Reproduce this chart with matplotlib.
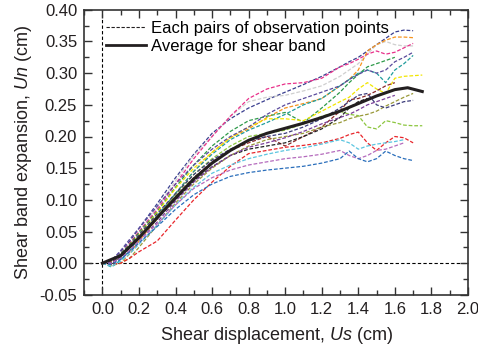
import numpy as np
import matplotlib
matplotlib.use("Agg")
import matplotlib.pyplot as plt
from matplotlib.ticker import MultipleLocator

plt.rcParams['font.family'] = ['Liberation Sans', 'DejaVu Sans']
plt.rcParams['mathtext.fontset'] = 'custom'
plt.rcParams['mathtext.it'] = 'Liberation Sans:italic'
plt.rcParams['mathtext.rm'] = 'Liberation Sans'

nan = np.nan

# shared x positions (cm) for the observation pairs
x_obs = [0, 0.05, 0.1, 0.15, 0.2, 0.3, 0.4, 0.5, 0.6, 0.7, 0.8, 0.9, 1.0, 1.1,
         1.2, 1.3, 1.35, 1.4, 1.45, 1.5, 1.55, 1.6, 1.65, 1.7, 1.75]

navy1 = [0, 0.004, 0.018, 0.035, 0.055, 0.094, 0.135, 0.172, 0.205, 0.228, 0.245, 0.258, 0.270, 0.282,
         0.295, 0.310, 0.318, 0.325, 0.335, 0.345, 0.355, 0.365, 0.368, 0.367, nan]
gray = [0, 0.002, 0.012, 0.030, 0.050, 0.088, 0.130, 0.170, 0.200, 0.232, 0.255, 0.262, 0.265, 0.272,
        0.280, 0.295, 0.305, 0.315, 0.330, 0.345, 0.350, 0.345, 0.343, 0.343, nan]
pink = [0, 0.003, 0.015, 0.032, 0.050, 0.085, 0.125, 0.165, 0.200, 0.232, 0.260, 0.275, 0.283, 0.285,
        0.292, 0.310, 0.315, 0.322, 0.330, 0.335, 0.330, 0.333, 0.340, 0.347, nan]
orange = [0, -0.004, 0.000, 0.015, 0.035, 0.070, 0.110, 0.145, 0.175, 0.198, 0.212, 0.230, 0.245, 0.252,
          0.260, 0.280, 0.290, 0.305, 0.335, 0.345, 0.352, 0.357, 0.357, 0.356, nan]
teal = [0, -0.006, 0.005, 0.020, 0.040, 0.075, 0.110, 0.145, 0.172, 0.195, 0.210, 0.222, 0.235, 0.250,
        0.260, 0.280, 0.290, 0.300, 0.305, 0.300, 0.285, 0.305, 0.315, 0.328, nan]
green = [0, 0.002, 0.015, 0.030, 0.048, 0.082, 0.120, 0.155, 0.185, 0.208, 0.225, 0.232, 0.238, 0.222,
         0.245, 0.270, 0.285, 0.298, 0.310, 0.315, 0.320, 0.325, nan, nan, nan]
yellow = [0, 0.003, 0.012, 0.028, 0.045, 0.080, 0.118, 0.150, 0.175, 0.198, 0.215, 0.228, 0.228, 0.225,
          0.240, 0.255, 0.262, 0.275, 0.285, 0.275, 0.268, 0.292, 0.295, 0.296, 0.297]
slate = [0, 0.004, 0.020, 0.038, 0.055, 0.090, 0.125, 0.155, 0.180, 0.200, 0.215, 0.235, 0.250, 0.260,
         0.270, 0.280, 0.290, 0.298, 0.305, 0.300, 0.305, 0.318, 0.325, 0.333, nan]
lightgreen = [0, 0.000, 0.010, 0.025, 0.042, 0.075, 0.108, 0.140, 0.165, 0.185, 0.200, 0.205, 0.210, 0.220,
              0.232, 0.240, 0.235, 0.233, 0.215, 0.212, 0.225, 0.222, 0.218, 0.217, 0.217]
wine = [0, 0.002, 0.010, 0.024, 0.040, 0.072, 0.105, 0.135, 0.160, 0.178, 0.190, 0.200, 0.185, 0.200,
        0.215, 0.240, 0.258, 0.260, 0.265, 0.272, 0.280, 0.285, nan, nan, nan]
blackd = [0, -0.002, 0.010, 0.025, 0.040, 0.070, 0.100, 0.130, 0.152, 0.170, 0.180, 0.185, 0.190, 0.200,
          0.212, 0.230, 0.245, 0.255, 0.260, nan, nan, nan, nan, nan, nan]
olive = [0, -0.003, 0.000, 0.008, 0.025, 0.060, 0.095, 0.125, 0.150, 0.170, 0.185, 0.195, 0.200, 0.205,
         0.215, 0.222, 0.228, 0.232, 0.235, 0.240, 0.248, 0.255, 0.262, 0.268, nan]
navy2 = [0, 0.000, 0.012, 0.028, 0.045, 0.078, 0.110, 0.140, 0.163, 0.180, 0.193, 0.200, 0.205, 0.215,
         0.228, 0.245, 0.255, 0.265, 0.268, 0.250, 0.245, 0.250, 0.255, 0.257, nan]
violet = [0, 0.001, 0.008, 0.020, 0.035, 0.065, 0.098, 0.128, 0.152, 0.170, 0.183, 0.190, 0.198, 0.208,
          0.220, 0.230, 0.235, 0.242, 0.250, 0.255, 0.260, 0.265, nan, nan, nan]
red = [0, -0.002, 0.000, 0.008, 0.018, 0.035, 0.068, 0.100, 0.128, 0.153, 0.173, 0.178, 0.183, 0.186,
       0.190, 0.197, 0.203, 0.207, 0.190, 0.178, 0.190, 0.200, 0.198, 0.190, nan]
cyan = [0, -0.005, 0.003, 0.015, 0.030, 0.060, 0.092, 0.120, 0.142, 0.155, 0.165, 0.172, 0.178, 0.182,
        0.188, 0.195, 0.190, 0.180, 0.185, 0.188, 0.190, 0.192, 0.195, nan, nan]
orchid = [0, 0.000, 0.008, 0.020, 0.035, 0.062, 0.092, 0.118, 0.135, 0.147, 0.155, 0.160, 0.165, 0.168,
          0.172, 0.178, 0.170, 0.165, 0.170, 0.178, 0.180, 0.185, 0.190, nan, nan]
blue = [0, -0.002, 0.006, 0.018, 0.032, 0.058, 0.085, 0.108, 0.125, 0.137, 0.143, 0.147, 0.150, 0.153,
        0.158, 0.165, 0.177, 0.165, 0.160, 0.165, 0.177, 0.170, 0.165, 0.162, nan]

pairs = [navy1, gray, pink, orange, teal, green, yellow, slate, lightgreen, wine,
         blackd, olive, navy2, violet, red, cyan, orchid, blue]
pair_colors = ['#3a3f8f', '#cfcfcf', '#e8318a', '#f7941d', '#1f9c9c', '#2e9a4a', '#f2e600',
               '#5a4a9c', '#8cc63f', '#8b2a2a', '#222222', '#9a9a3a', '#3b3b7a', '#7b3f9a',
               '#e8262b', '#5bc5e0', '#b56bbd', '#2a6ebb']

# average curve
x_avg = [0, 0.1, 0.2, 0.3, 0.4, 0.5, 0.6, 0.7, 0.8, 0.9, 1.0, 1.1, 1.2, 1.3, 1.4, 1.5, 1.6, 1.67, 1.75]
y_avg = [0, 0.012, 0.040, 0.072, 0.103, 0.133, 0.158, 0.178, 0.194, 0.205, 0.213, 0.221, 0.230,
         0.240, 0.252, 0.264, 0.274, 0.277, 0.271]

fig = plt.figure(figsize=(4.78, 3.51), dpi=100)
ax = fig.add_axes([0.176, 0.16, 0.803, 0.812])

ax.axhline(0, color='black', lw=0.8, ls=(0, (3, 2)), zorder=1)
ax.axvline(0, color='black', lw=0.8, ls=(0, (3, 2)), zorder=1)

for y, c in zip(pairs, pair_colors):
    ax.plot(x_obs, y, color=c, lw=0.9, ls=(0, (3, 1.5)), zorder=2)

ax.plot(x_avg, y_avg, color='#231f20', lw=2.2, zorder=3)

# legend proxies
ax.plot([], [], color='#231f20', lw=0.8, ls=(0, (3, 1.5)), label='Each pairs of observation points')
ax.plot([], [], color='#231f20', lw=2.0, label='Average for shear band')
ax.legend(loc='upper left', frameon=False, fontsize=12, handlelength=2.4,
          handletextpad=0.25, borderaxespad=0.0, borderpad=0.3, labelspacing=0.2,
          bbox_to_anchor=(0.045, 0.979))

ax.set_xlim(-0.1, 2.0)
ax.set_ylim(-0.05, 0.40)
ax.xaxis.set_major_locator(MultipleLocator(0.2))
ax.xaxis.set_minor_locator(MultipleLocator(0.1))
ax.yaxis.set_major_locator(MultipleLocator(0.05))
ax.yaxis.set_minor_locator(MultipleLocator(0.025))
ax.xaxis.set_major_formatter(plt.FuncFormatter(lambda v, p: f"{v:.1f}"))
ax.yaxis.set_major_formatter(plt.FuncFormatter(lambda v, p: f"{v:.2f}"))
ax.tick_params(which='both', direction='in', top=True, right=True, color='#333333',
               labelsize=12, labelcolor='#231f20')
ax.tick_params(which='major', length=6, width=1.0, pad=5)
ax.tick_params(which='minor', length=3.5, width=1.0)
for s in ax.spines.values():
    s.set_linewidth(1.2)
    s.set_color('#333333')

ax.set_xlabel(r'Shear displacement, $\mathit{Us}$ (cm)', fontsize=13, color='#231f20', labelpad=6)
ax.set_ylabel(r'Shear band expansion, $\mathit{Un}$ (cm)', fontsize=13, color='#231f20', labelpad=4)

fig.savefig('out.png', dpi=100)
